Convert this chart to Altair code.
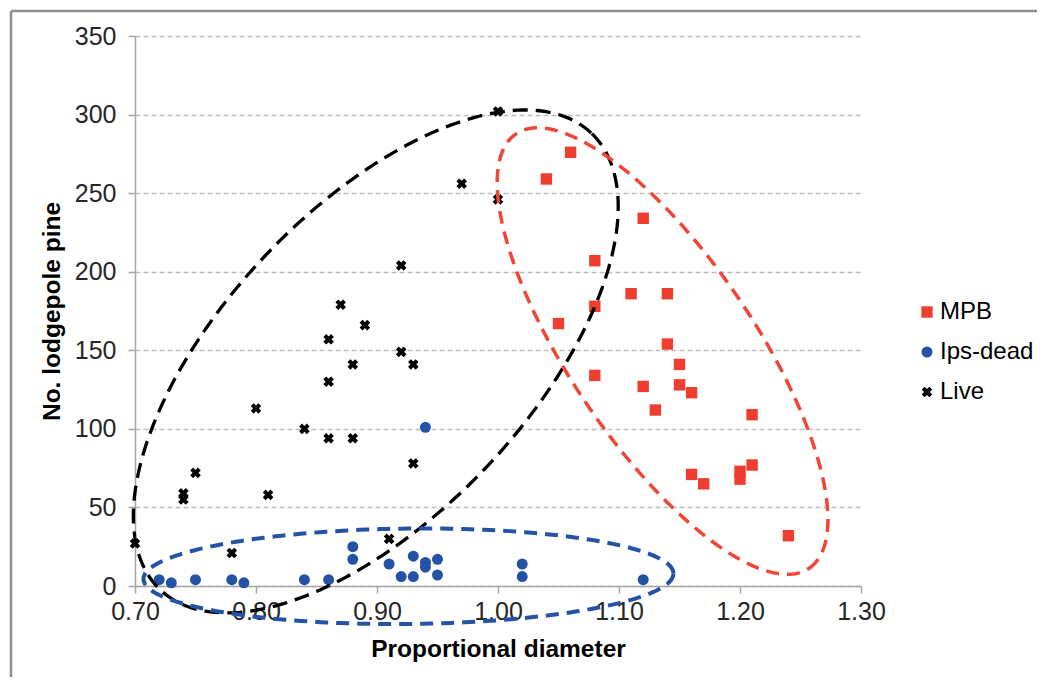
import numpy as np
import pandas as pd
import altair as alt

# ---------------- data ----------------
mpb_x = [1.06, 1.04, 1.12, 1.08, 1.11, 1.14, 1.08, 1.05, 1.14, 1.15, 1.08,
         1.12, 1.15, 1.16, 1.13, 1.21, 1.16, 1.17, 1.20, 1.20, 1.21, 1.24]
mpb_y = [276, 259, 234, 207, 186, 186, 178, 167, 154, 141, 134,
         127, 128, 123, 112, 109, 71, 65, 73, 68, 77, 32]

ips_x = [0.72, 0.73, 0.75, 0.78, 0.79, 0.84, 0.86, 0.88, 0.88, 0.91, 0.92,
         0.93, 0.93, 0.94, 0.94, 0.94, 0.95, 0.95, 1.02, 1.02, 1.12]
ips_y = [4, 2, 4, 4, 2, 4, 4, 25, 17, 14, 6,
         19, 6, 101, 15, 12, 17, 7, 14, 6, 4]

live_x = [0.70, 0.74, 0.74, 0.75, 0.78, 0.80, 0.81, 0.84, 0.86, 0.86, 0.86, 0.87,
          0.88, 0.88, 0.89, 0.91, 0.92, 0.92, 0.93, 0.93, 0.97, 1.00, 1.00]
live_y = [27, 59, 55, 72, 21, 113, 58, 100, 157, 130, 94, 179,
          141, 94, 166, 30, 204, 149, 141, 78, 256, 302, 246]

series_names = ["MPB", "Ips-dead", "Live"]
series_colors = ["#EF3E2F", "#2453A6", "#000000"]

x_ticks = [0.70, 0.80, 0.90, 1.00, 1.10, 1.20, 1.30]
y_ticks = [0, 50, 100, 150, 200, 250, 300, 350]

# hand-drawn dashed ellipses (annotation): centre in data units,
# semi-axes in pixels, rotation in degrees
ell_names = ["Live", "MPB", "Ips-dead"]
ell_cx = [0.899, 1.136, 0.926]
ell_cy = [142.9, 149.5, 6.2]
ell_rx_px = [314, 262, 265]
ell_ry_px = [153, 92.5, 47.7]
ell_rot = [46.7, -56.0, 0.6]

# ---------------- layout ----------------
W, H = 726, 550
X_DOM = [0.70, 1.30]
Y_DOM = [0, 350]
px_x = W / (X_DOM[1] - X_DOM[0])
px_y = H / (Y_DOM[1] - Y_DOM[0])
FONT = "Liberation Sans"
X_PATH = "M-1,-0.45L-0.45,-1L0,-0.55L0.45,-1L1,-0.45L0.55,0L1,0.45L0.45,1L0,0.55L-0.45,1L-1,0.45L-0.55,0Z"

pts = pd.concat([
    pd.DataFrame({"x": mpb_x, "y": mpb_y, "series": "MPB"}),
    pd.DataFrame({"x": ips_x, "y": ips_y, "series": "Ips-dead"}),
    pd.DataFrame({"x": live_x, "y": live_y, "series": "Live"}),
], ignore_index=True)


def ellipse_df(i):
    t = np.linspace(0, 2 * np.pi, 241)
    th = np.radians(ell_rot[i])
    dx = ell_rx_px[i] * np.cos(t) * np.cos(th) - ell_ry_px[i] * np.sin(t) * np.sin(th)
    dy = ell_rx_px[i] * np.cos(t) * np.sin(th) + ell_ry_px[i] * np.sin(t) * np.cos(th)
    return pd.DataFrame({"i": np.arange(len(t)),
                         "x": ell_cx[i] + dx / px_x,
                         "y": ell_cy[i] + dy / px_y})


xscale = alt.Scale(domain=X_DOM, nice=False, zero=False)
yscale = alt.Scale(domain=Y_DOM, nice=False, zero=False)

x_axis = alt.Axis(values=x_ticks, format=".2f", title="Proportional diameter",
                  grid=False, tickSize=7, labelPadding=6, labelFlush=False,
                  labelOverlap=False, titleY=70, titleBaseline="alphabetic")
y_axis = alt.Axis(values=y_ticks, title="No. lodgepole pine", grid=True,
                  gridDash=[5, 3], gridColor="#BDBDBD", gridWidth=1.5,
                  tickSize=7, labelPadding=12, labelOverlap=False,
                  titleX=-76, titleY=275, titleAngle=-90, titleBaseline="alphabetic")

legend = alt.Legend(title=None, orient="none", legendX=780, legendY=264,
                    labelFontSize=24, labelFont=FONT, labelColor="#000000",
                    symbolSize=121, labelOffset=1, rowPadding=16, padding=0,
                    symbolStrokeWidth=0)

points = alt.Chart(pts).mark_point(filled=True, opacity=1, strokeWidth=0).encode(
    x=alt.X("x:Q", scale=xscale, axis=x_axis),
    y=alt.Y("y:Q", scale=yscale, axis=y_axis),
    color=alt.Color("series:N", scale=alt.Scale(domain=series_names, range=series_colors),
                    legend=legend),
    shape=alt.Shape("series:N", scale=alt.Scale(domain=series_names,
                                                range=["square", "circle", X_PATH]),
                    legend=legend),
    size=alt.Size("series:N", scale=alt.Scale(domain=series_names, range=[130, 112, 145]),
                  legend=None),
)

ell_styles = {
    "Live": dict(color="#000000", strokeWidth=3.3, strokeDash=[15, 8]),
    "MPB": dict(color="#F04636", strokeWidth=3.5, strokeDash=[13, 8]),
    "Ips-dead": dict(color="#2453A6", strokeWidth=4, strokeDash=[13, 8]),
}
ell_layers = []
for i, name in enumerate(ell_names):
    ell_layers.append(
        alt.Chart(ellipse_df(i)).mark_line(clip=False, **ell_styles[name]).encode(
            x=alt.X("x:Q", scale=xscale),
            y=alt.Y("y:Q", scale=yscale),
            order="i:Q",
        )
    )

frame_src = pd.DataFrame({"k": [0]})
frame_top = alt.Chart(frame_src).mark_rule(color="#8E8E8E", strokeWidth=2.5).encode(
    x=alt.value(-124), x2=alt.value(1000), y=alt.value(-25))
frame_left = alt.Chart(frame_src).mark_rule(color="#8E8E8E", strokeWidth=2.5).encode(
    x=alt.value(-124), y=alt.value(-25), y2=alt.value(700))

chart = alt.layer(frame_top, frame_left, points, *ell_layers).properties(
    width=W, height=H,
    autosize=alt.AutoSizeParams(type="none"),
    padding={"left": 127, "top": 28, "right": 176, "bottom": 91},
    background="white",
).configure_view(strokeWidth=0).configure_axis(
    labelFont=FONT, titleFont=FONT, labelFontSize=25, titleFontSize=24.5,
    titleFontWeight="bold", labelColor="#262626", titleColor="#000000",
    domainColor="#A6A6A6", tickColor="#A6A6A6", domainWidth=1.5, tickWidth=1.5,
)

chart.save("out.html", embed_options={"renderer": "svg", "actions": False})
